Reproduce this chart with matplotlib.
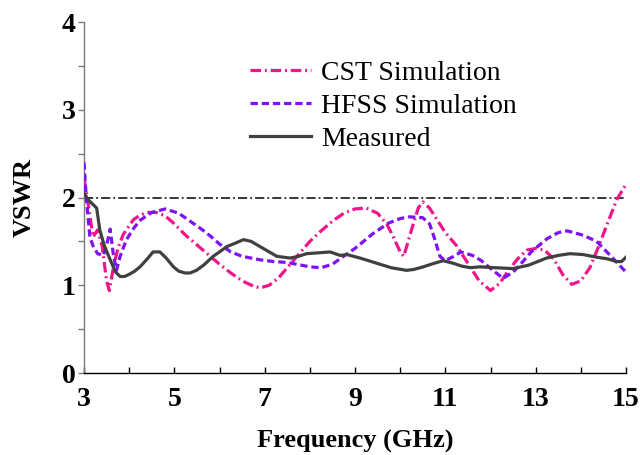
import matplotlib
matplotlib.use("Agg")
import matplotlib.pyplot as plt
from matplotlib.ticker import MultipleLocator

# VSWR vs frequency: two simulations and the measured antenna response
cst_freq = [3.0, 3.1, 3.2, 3.3, 3.4, 3.5, 3.56, 3.65, 3.75, 3.87, 4.0, 4.1, 4.25, 4.4,
            4.6, 4.8, 5.0, 5.25, 5.5, 5.75, 6.0, 6.25, 6.5, 6.75, 6.9, 7.1, 7.3, 7.5,
            7.75, 8.0, 8.25, 8.5, 8.75, 9.0, 9.25, 9.5, 9.7, 9.85, 10.0, 10.08, 10.25,
            10.4, 10.5, 10.65, 10.85, 11.0, 11.25, 11.5, 11.75, 12.0, 12.2, 12.4, 12.6,
            12.8, 13.0, 13.2, 13.4, 13.6, 13.8, 14.0, 14.2, 14.4, 14.6, 14.8, 15.0]
cst_vswr = [2.22, 1.9, 1.55, 1.63, 1.45, 1.05, 0.94, 1.2, 1.42, 1.58, 1.68, 1.75, 1.8, 1.83,
            1.83, 1.79, 1.7, 1.57, 1.46, 1.35, 1.24, 1.14, 1.05, 0.99, 0.97, 1.0, 1.08, 1.2,
            1.35, 1.5, 1.62, 1.73, 1.82, 1.87, 1.88, 1.82, 1.7, 1.55, 1.38, 1.33, 1.63,
            1.88, 1.95, 1.88, 1.72, 1.6, 1.45, 1.25, 1.05, 0.94, 1.02, 1.17, 1.3,
            1.4, 1.42, 1.4, 1.3, 1.12, 1.01, 1.05, 1.2, 1.45, 1.72, 1.98, 2.15]

hfss_freq = [3.0, 3.05, 3.13, 3.2, 3.3, 3.43, 3.52, 3.58, 3.65, 3.72, 3.8, 3.94, 4.1, 4.24,
             4.5, 4.8, 5.1, 5.35, 5.6, 5.8, 6.0, 6.25, 6.5, 6.9, 7.2, 7.5, 7.8, 8.0, 8.25,
             8.5, 8.8, 9.0, 9.4, 9.75, 10.0, 10.2, 10.5, 10.65, 10.75, 10.88, 11.0, 11.15,
             11.35, 11.6, 11.8, 12.05, 12.28, 12.5, 12.7, 12.9, 13.25, 13.5, 13.7, 14.05,
             14.35, 14.65, 15.0]
hfss_vswr = [2.4, 2.0, 1.55, 1.45, 1.36, 1.34, 1.5, 1.64, 1.35, 1.17, 1.33, 1.52, 1.65, 1.74,
             1.83, 1.87, 1.82, 1.73, 1.64, 1.56, 1.47, 1.38, 1.33, 1.29, 1.27, 1.26, 1.23, 1.21, 1.2,
             1.24, 1.35, 1.42, 1.59, 1.71, 1.76, 1.78, 1.77, 1.7, 1.55, 1.33, 1.28, 1.32,
             1.38, 1.34, 1.28, 1.17, 1.08, 1.15, 1.26, 1.38, 1.53, 1.6, 1.62, 1.57,
             1.5, 1.34, 1.15]

meas_freq = [3.0, 3.1, 3.2, 3.28, 3.35, 3.45, 3.58, 3.7, 3.8, 3.9, 4.02, 4.12, 4.24, 4.4,
             4.53, 4.68, 4.82, 4.98, 5.1, 5.24, 5.35, 5.49, 5.65, 5.86, 6.0, 6.16, 6.35,
             6.53, 6.7, 6.9, 7.1, 7.27, 7.56, 7.75, 7.93, 8.2, 8.45, 8.67, 8.82, 9.11,
             9.3, 9.55, 9.8, 10.14, 10.3, 10.51, 10.75, 10.95, 11.18, 11.35, 11.55, 11.77,
             12.1, 12.5, 12.85, 13.24, 13.5, 13.76, 14.05, 14.35, 14.6, 14.79, 14.9, 15.0]
meas_vswr = [2.05, 1.97, 1.92, 1.88, 1.63, 1.45, 1.29, 1.15, 1.1, 1.1, 1.13, 1.16, 1.21, 1.3,
             1.38, 1.38, 1.31, 1.21, 1.16, 1.14, 1.14, 1.17, 1.23, 1.33, 1.38, 1.44, 1.48,
             1.52, 1.5, 1.44, 1.38, 1.33, 1.31, 1.33, 1.36, 1.37, 1.38, 1.34, 1.35, 1.31,
             1.28, 1.24, 1.2, 1.17, 1.18, 1.21, 1.25, 1.28, 1.25, 1.22, 1.2, 1.21,
             1.2, 1.19, 1.23, 1.31, 1.34, 1.36, 1.35, 1.32, 1.3, 1.27, 1.27, 1.32]

x_ticks = [3, 5, 7, 9, 11, 13, 15]
y_ticks = [0, 1, 2, 3, 4]
vswr_limit = 2.0

plt.rcParams["font.family"] = ["Liberation Serif", "DejaVu Serif"]

fig = plt.figure(figsize=(6.4, 4.55), dpi=100)
ax = fig.add_axes([0.13125, 0.1802, 0.8469, 0.7714])

ax.axhline(vswr_limit, color="black", linewidth=1.1, linestyle=(0, (6, 2, 1.2, 2)), zorder=1)

ax.plot(cst_freq, cst_vswr, color="#F0158A", linewidth=2.3,
        linestyle=(0, (3.3, 1.2, 0.6, 1.2)), label="CST Simulation", zorder=3)
ax.plot(hfss_freq, hfss_vswr, color="#7F12F2", linewidth=2.3,
        linestyle=(0, (2.3, 1.2)), label="HFSS Simulation", zorder=3)
ax.plot(meas_freq, meas_vswr, color="#404040", linewidth=2.3,
        linestyle="-", label="Measured", zorder=4)

ax.set_xlim(3, 15)
ax.set_ylim(0, 4)
ax.set_xticks(x_ticks)
ax.set_yticks(y_ticks)
ax.xaxis.set_minor_locator(MultipleLocator(1))
ax.yaxis.set_minor_locator(MultipleLocator(0.5))

for side in ("top", "right"):
    ax.spines[side].set_visible(False)
ax.spines["left"].set_color("#7a7a7a")
ax.spines["left"].set_linewidth(1.0)
ax.spines["bottom"].set_color("black")
ax.spines["bottom"].set_linewidth(1.0)

ax.tick_params(axis="x", which="both", direction="in", length=4, width=1.0, pad=10)
ax.tick_params(axis="y", which="both", direction="out", length=4, width=1.0,
               color="#7a7a7a", pad=2)
for lbl in ax.get_xticklabels() + ax.get_yticklabels():
    lbl.set_fontsize(20)
    lbl.set_fontweight("bold")

ax.set_xlabel("Frequency (GHz)", fontsize=19, fontweight="bold", labelpad=13)
ax.set_ylabel("VSWR", fontsize=19, fontweight="bold", labelpad=19)

ax.legend(loc="upper left", bbox_to_anchor=(0.28, 0.93), frameon=False, fontsize=20,
          handlelength=2.2, handletextpad=0.36, labelspacing=0.27, borderpad=0)

fig.savefig("out.png", dpi=100)
